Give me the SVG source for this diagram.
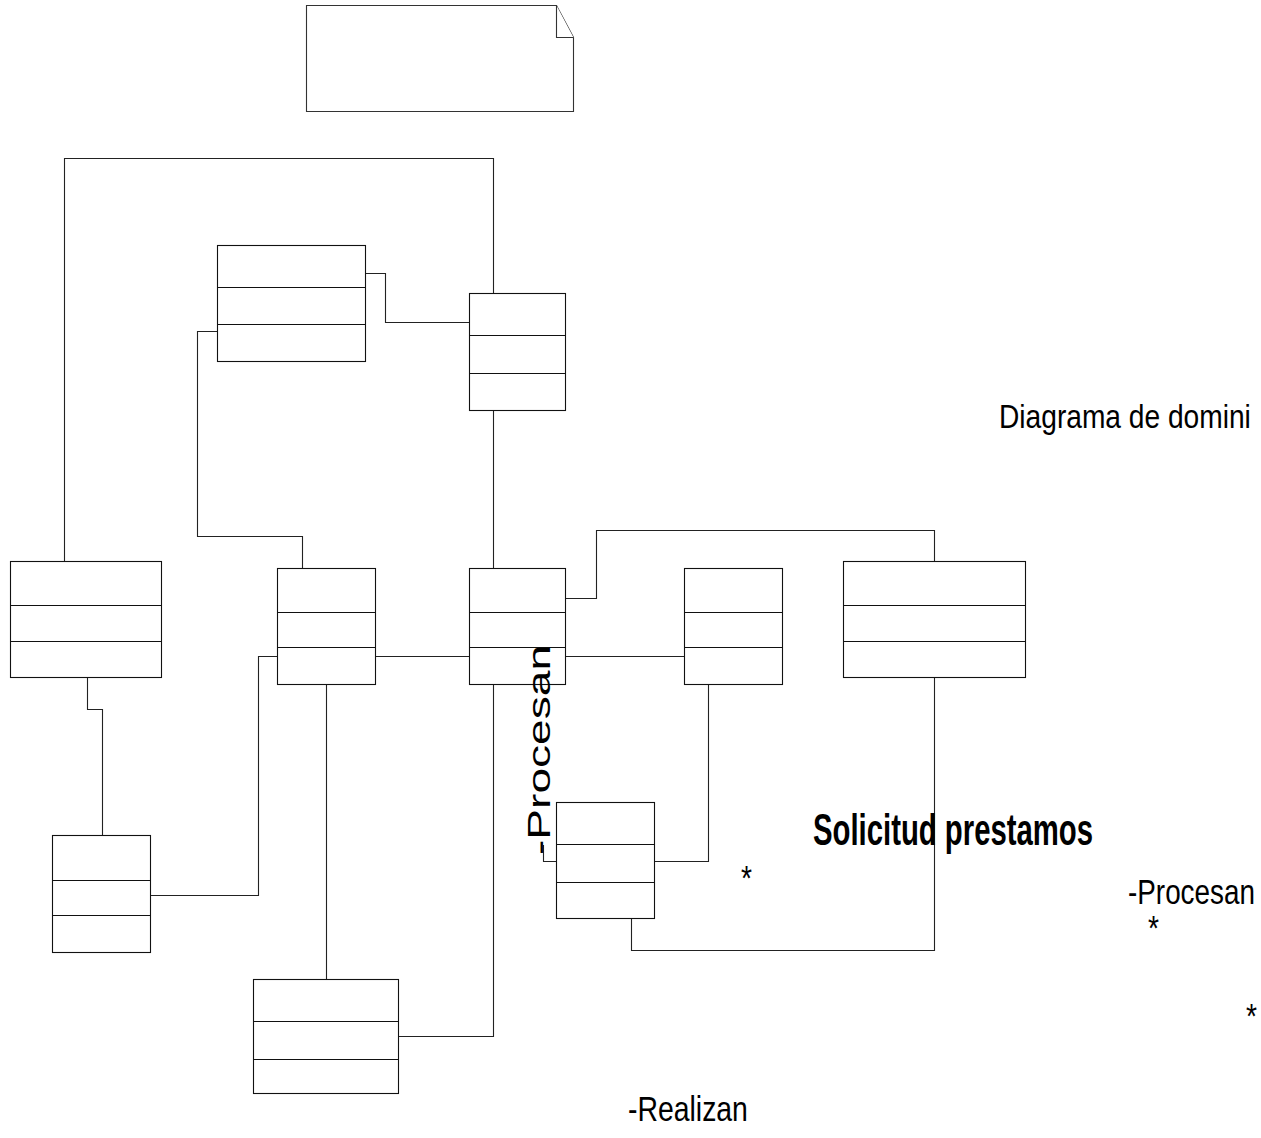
<svg xmlns="http://www.w3.org/2000/svg" width="1261" height="1138" viewBox="0 0 1261 1138">
  <style>
    .cls rect, .cls line { fill: #fff; stroke: #111; stroke-width: 1.1; }
    .cls line { fill: none; }
    .note path { fill: #fff; stroke: #333; stroke-width: 1.1; }
    #connectors polyline { fill: none; stroke: #222; stroke-width: 1.1; }
    .lbl { font-family: "Liberation Sans", Arial, sans-serif; fill: #000; }
  </style>
  <rect x="0" y="0" width="1261" height="1138" fill="#fff"/>

  <!-- comment note -->
  <g id="note" class="note">
    <path d="M306.5,5.5 H556.5 L573.5,37.5 V111.5 H306.5 Z"/>
    <path d="M556.5,5.5 V37.5 H573.5" fill="none"/>
  </g>

  <!-- associations -->
  <g id="connectors">
    <polyline points="493.5,293 493.5,158.5 64.5,158.5 64.5,561"/>
    <polyline points="366,273.5 385.5,273.5 385.5,322.5 469,322.5"/>
    <polyline points="217,331.5 197.5,331.5 197.5,536.5 302.5,536.5 302.5,568"/>
    <polyline points="493.5,411 493.5,568"/>
    <polyline points="87.5,678 87.5,709.5 102.5,709.5 102.5,835"/>
    <polyline points="151,895.5 258.5,895.5 258.5,656.5 277,656.5"/>
    <polyline points="376,656.5 469,656.5"/>
    <polyline points="326.5,685 326.5,979"/>
    <polyline points="399,1036.5 493.5,1036.5 493.5,685"/>
    <polyline points="566,598.5 596.5,598.5 596.5,530.5 934.5,530.5 934.5,561"/>
    <polyline points="566,656.5 684,656.5"/>
    <polyline points="708.5,685 708.5,861.5 655,861.5"/>
    <polyline points="934.5,678 934.5,950.5 631.5,950.5 631.5,919"/>
    <polyline points="556,861.5 543.5,861.5 543.5,845"/>
  </g>

  <!-- classes: name / attributes / operations compartments -->
  <g id="class-d" class="cls">
    <rect x="10.5" y="561.5" width="151" height="116"/>
    <line x1="10.5" y1="605.5" x2="161.5" y2="605.5"/>
    <line x1="10.5" y1="641.5" x2="161.5" y2="641.5"/>
  </g>
  <g id="class-e" class="cls">
    <rect x="52.5" y="835.5" width="98" height="117"/>
    <line x1="52.5" y1="880.5" x2="150.5" y2="880.5"/>
    <line x1="52.5" y1="915.5" x2="150.5" y2="915.5"/>
  </g>
  <g id="class-a" class="cls">
    <rect x="217.5" y="245.5" width="148" height="116"/>
    <line x1="217.5" y1="287.5" x2="365.5" y2="287.5"/>
    <line x1="217.5" y1="324.5" x2="365.5" y2="324.5"/>
  </g>
  <g id="class-b" class="cls">
    <rect x="469.5" y="293.5" width="96" height="117"/>
    <line x1="469.5" y1="335.5" x2="565.5" y2="335.5"/>
    <line x1="469.5" y1="373.5" x2="565.5" y2="373.5"/>
  </g>
  <g id="class-c" class="cls">
    <rect x="277.5" y="568.5" width="98" height="116"/>
    <line x1="277.5" y1="612.5" x2="375.5" y2="612.5"/>
    <line x1="277.5" y1="647.5" x2="375.5" y2="647.5"/>
  </g>
  <g id="class-g" class="cls">
    <rect x="469.5" y="568.5" width="96" height="116"/>
    <line x1="469.5" y1="612.5" x2="565.5" y2="612.5"/>
    <line x1="469.5" y1="647.5" x2="565.5" y2="647.5"/>
  </g>
  <g id="class-h" class="cls">
    <rect x="684.5" y="568.5" width="98" height="116"/>
    <line x1="684.5" y1="612.5" x2="782.5" y2="612.5"/>
    <line x1="684.5" y1="647.5" x2="782.5" y2="647.5"/>
  </g>
  <g id="class-i" class="cls">
    <rect x="843.5" y="561.5" width="182" height="116"/>
    <line x1="843.5" y1="605.5" x2="1025.5" y2="605.5"/>
    <line x1="843.5" y1="641.5" x2="1025.5" y2="641.5"/>
  </g>
  <g id="class-j" class="cls">
    <rect x="556.5" y="802.5" width="98" height="116"/>
    <line x1="556.5" y1="844.5" x2="654.5" y2="844.5"/>
    <line x1="556.5" y1="882.5" x2="654.5" y2="882.5"/>
  </g>
  <g id="class-f" class="cls">
    <rect x="253.5" y="979.5" width="145" height="114"/>
    <line x1="253.5" y1="1021.5" x2="398.5" y2="1021.5"/>
    <line x1="253.5" y1="1059.5" x2="398.5" y2="1059.5"/>
  </g>

  <!-- labels: narrow faces are obtained by scaling the x axis -->
  <g id="labels">
    <text class="lbl" font-size="34" transform="translate(999,428) scale(0.828,1)">Diagrama de domini</text>
    <text class="lbl" font-size="44" font-weight="bold" transform="translate(813,845) scale(0.666,1)">Solicitud prestamos</text>
    <text class="lbl" font-size="31" transform="translate(550,855) rotate(-90) scale(1.487,1)">-Procesan</text>
    <text class="lbl" font-size="35" transform="translate(1128,904) scale(0.796,1)">-Procesan</text>
    <text class="lbl" font-size="35.5" transform="translate(628,1121) scale(0.8,1)">-Realizan</text>
    <text class="lbl" font-size="36" transform="translate(741,890) scale(0.785,1)">*</text>
    <text class="lbl" font-size="36" transform="translate(1148,940) scale(0.785,1)">*</text>
    <text class="lbl" font-size="36" transform="translate(1246,1028) scale(0.785,1)">*</text>
  </g>
</svg>
